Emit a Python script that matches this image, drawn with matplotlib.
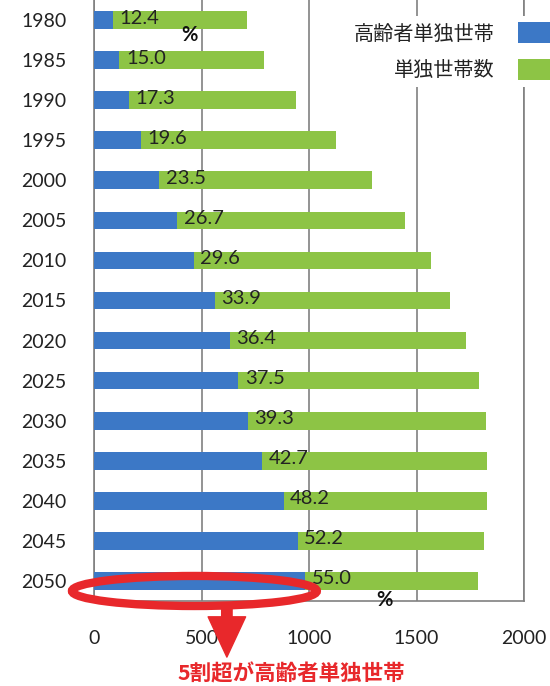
import numpy as np
import matplotlib
matplotlib.use("Agg")
import matplotlib.pyplot as plt
from matplotlib.patches import Ellipse, Patch

plt.rcParams['font.family'] = ['Lato', 'Noto Sans CJK JP', 'DejaVu Sans']

# 単独世帯数（万世帯）と高齢者単独世帯の割合（%）
years = [1980, 1985, 1990, 1995, 2000, 2005, 2010, 2015,
         2020, 2025, 2030, 2035, 2040, 2045, 2050]
single_total = [713, 789, 941, 1124, 1292, 1447, 1569, 1657,
                1732, 1791, 1822, 1830, 1830, 1814, 1784]
elderly_pct = [12.4, 15.0, 17.3, 19.6, 23.5, 26.7, 29.6, 33.9,
               36.4, 37.5, 39.3, 42.7, 48.2, 52.2, 55.0]
xticks = [0, 500, 1000, 1500, 2000]
legend_labels = ['高齢者単独世帯', '単独世帯数']

blue = '#3c78c6'
green = '#8dc445'
red = '#e8282b'
grid_c = '#808080'

total = np.array(single_total, dtype=float)
pct = np.array(elderly_pct)
elderly = total * pct / 100.0
pos = np.arange(len(years))

fig = plt.figure(figsize=(5.5, 6.86), dpi=100)
ax = fig.add_axes([94 / 550, 85 / 686, 430 / 550, 601 / 686])

ax.barh(pos, total, height=0.44, color=green, zorder=2)
ax.barh(pos, elderly, height=0.44, color=blue, zorder=3)

for i in range(len(years)):
    ax.text(elderly[i] + 30, pos[i] - 0.05, f'{pct[i]:.1f}', ha='left', va='center',
            fontsize=14.5, color='#222222', zorder=4)

ax.text(446, 0.37, '%', ha='center', va='center', fontsize=14.5, color='#111111',
        fontweight='bold', zorder=4)
ax.text(1349, 14.47, '%', ha='center', va='center', fontsize=14.5, color='#111111',
        fontweight='bold', zorder=4, clip_on=False)

ax.set_xlim(0, 2000)
ax.set_ylim(14.5, -0.5)
ax.set_yticks(pos)
ax.set_yticklabels([str(y) for y in years])
ax.set_xticks(xticks)
ax.tick_params(axis='both', length=0, labelsize=14, colors='#222222')
ax.tick_params(axis='y', pad=20)
ax.tick_params(axis='x', pad=21)

ax.set_axisbelow(True)
ax.xaxis.grid(True, color=grid_c, linewidth=1.2)
ax.spines['top'].set_visible(False)
for s in ['left', 'right', 'bottom']:
    ax.spines[s].set_color(grid_c)
    ax.spines[s].set_linewidth(1.2)

handles = [Patch(facecolor=blue), Patch(facecolor=green)]
leg = ax.legend(handles, legend_labels, loc='upper left',
                bbox_to_anchor=(338 / 550, 1 - 6 / 686), bbox_transform=fig.transFigure,
                markerfirst=False, frameon=True, fancybox=False, framealpha=1,
                edgecolor='none', borderpad=0.3, handlelength=2.5, handleheight=1.25,
                handletextpad=1.15, labelspacing=0.7,
                prop={'family': 'Noto Sans CJK JP', 'size': 14.5})
for t in leg.get_texts():
    t.set_color('#222222')

# 2050年の高齢者単独世帯を囲む
ax.add_patch(Ellipse((467, 14.25), 1139, 0.75, fill=False, edgecolor=red,
                     linewidth=6, zorder=6, clip_on=False))
ax.annotate('', xy=(618, 15.9), xytext=(618, 14.6), annotation_clip=False,
            arrowprops=dict(arrowstyle='simple,head_width=2.7,head_length=2.9,tail_width=0.75',
                            color=red, shrinkA=0, shrinkB=0), zorder=6)
ax.text(916, 16.32, '5割超が高齢者単独世帯', ha='center', va='center', fontsize=15.5,
        fontweight='bold', color=red, family=['Noto Sans CJK JP'], clip_on=False)

fig.savefig('out.png', dpi=100)
